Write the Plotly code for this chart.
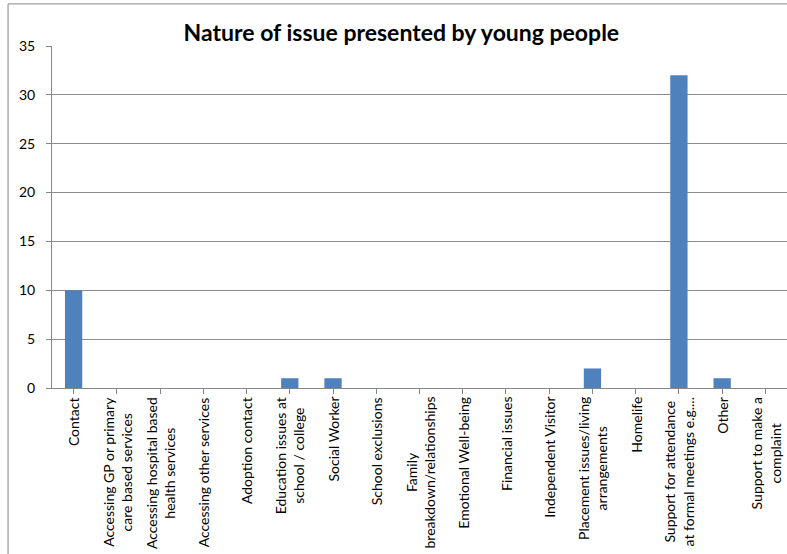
import plotly.graph_objects as go

categories = [
    "Contact",
    "Accessing GP or primary<br>care based services",
    "Accessing hospital based<br>health services",
    "Accessing other services",
    "Adoption contact",
    "Education issues at<br>school / college",
    "Social Worker",
    "School exclusions",
    "Family<br>breakdown/relationships",
    "Emotional Well-being",
    "Financial issues",
    "Independent Visitor",
    "Placement issues/living<br>arrangements",
    "Homelife",
    "Support for attendance<br>at formal meetings e.g....",
    "Other",
    "Support to make a<br>complaint",
]
values = [10, 0, 0, 0, 0, 1, 1, 0, 0, 0, 0, 0, 2, 0, 32, 1, 0]

FONT = "Lato"
xs = list(range(len(categories)))

fig = go.Figure(go.Bar(
    x=xs,
    y=values,
    marker=dict(color="#4F81BD", line=dict(width=0)),
    width=0.4,
))

fig.update_layout(
    width=787, height=554,
    margin=dict(l=52, r=0, t=46, b=166),
    paper_bgcolor="white", plot_bgcolor="white",
    showlegend=False,
    title=dict(text="<b>Nature of issue presented by young people</b>",
               x=0.51, xanchor="center", y=0.94, yanchor="middle",
               font=dict(family=FONT, size=23, color="black")),
    font=dict(family=FONT, size=14, color="black"),
)

fig.update_xaxes(
    tickmode="array",
    tickvals=xs,
    showticklabels=False,
    range=[-0.5, len(categories) - 0.5],
    showline=True, linecolor="#878787", linewidth=1,
    ticks="outside", ticklen=5, tickcolor="#878787",
    tickson="boundaries",
    showgrid=False,
)

fig.update_yaxes(
    range=[0, 35], dtick=5,
    showline=True, linecolor="#878787", linewidth=1,
    ticks="outside", ticklen=5, tickcolor="#878787",
    ticklabelstandoff=8,
    showgrid=True, gridcolor="#8c8c8c", gridwidth=1,
    zeroline=False,
    tickfont=dict(family=FONT, size=14, color="black"),
)

for x, label in zip(xs, categories):
    fig.add_annotation(
        x=x, y=0, xref="x", yref="y",
        text=label, textangle=-90, showarrow=False,
        xanchor="center", yanchor="top", align="center",
        yshift=-7,
        font=dict(family=FONT, size=14, color="black"),
    )

fig.add_shape(type="rect", xref="paper", yref="paper",
              x0=-0.0598, x1=1.05, y0=-0.6, y1=1.123,
              line=dict(color="#878787", width=1))

fig.write_html("out.html")
